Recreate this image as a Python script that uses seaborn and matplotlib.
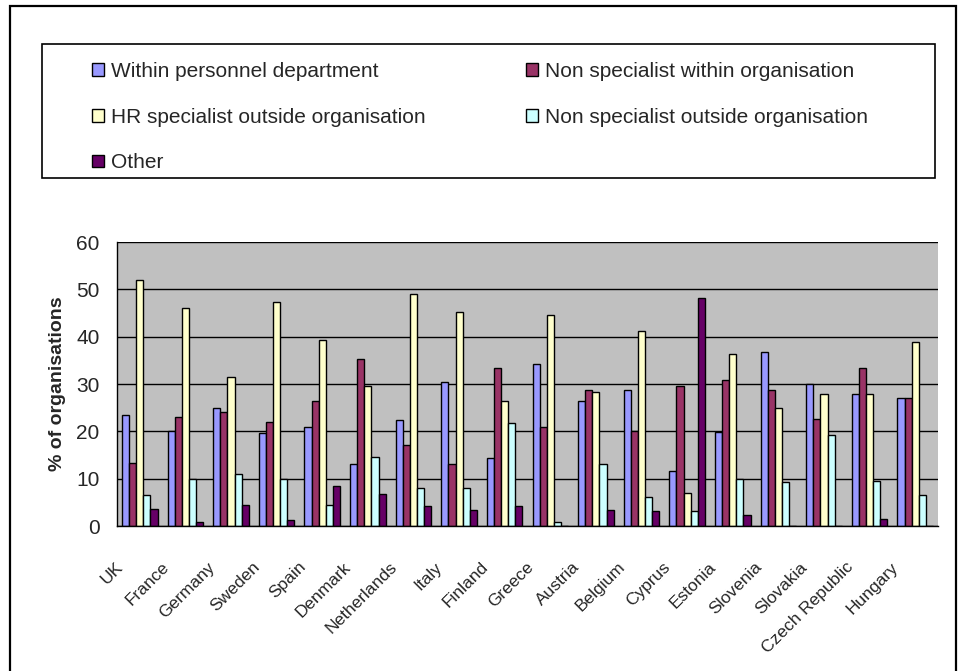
import pandas as pd
import matplotlib
matplotlib.use("Agg")
import matplotlib.pyplot as plt
import matplotlib.patches as mpatches
import seaborn as sns

# Data
countries = ["UK", "France", "Germany", "Sweden", "Spain", "Denmark", "Netherlands",
             "Italy", "Finland", "Greece", "Austria", "Belgium", "Cyprus", "Estonia",
             "Slovenia", "Slovakia", "Czech Republic", "Hungary"]
series = ["Within personnel department", "Non specialist within organisation",
          "HR specialist outside organisation", "Non specialist outside organisation",
          "Other"]
within_personnel = [23.5, 20.0, 25.0, 19.7, 21.0, 13.0, 22.3, 30.5, 14.3, 34.2,
                    26.5, 28.7, 11.7, 19.8, 36.7, 29.9, 27.8, 27.0]
non_spec_within = [13.3, 23.0, 24.0, 22.0, 26.5, 35.3, 17.2, 13.0, 33.3, 21.0,
                   28.7, 20.0, 29.6, 30.8, 28.7, 22.7, 33.3, 27.0]
hr_spec_outside = [52.0, 46.0, 31.5, 47.3, 39.2, 29.5, 49.0, 45.2, 26.5, 44.5,
                   28.3, 41.3, 7.0, 36.3, 24.9, 27.8, 27.8, 38.8]
non_spec_outside = [6.5, 10.0, 11.0, 10.0, 4.5, 14.5, 8.0, 8.0, 21.8, 0.8,
                    13.0, 6.2, 3.2, 10.0, 9.2, 19.3, 9.6, 6.6]
other = [3.5, 0.8, 4.5, 1.2, 8.5, 6.7, 4.2, 3.3, 4.3, 0.0,
         3.3, 3.2, 48.2, 2.4, 0.0, 0.0, 1.5, 0.0]
colors = ["#9999FF", "#993366", "#FFFFCC", "#CCFFFF", "#660066"]

df = pd.DataFrame({"Country": countries,
                   series[0]: within_personnel,
                   series[1]: non_spec_within,
                   series[2]: hr_spec_outside,
                   series[3]: non_spec_outside,
                   series[4]: other})
long = df.melt(id_vars="Country", var_name="Series", value_name="Value")

sns.set_style("white")
plt.rcParams["font.family"] = ["Liberation Sans", "DejaVu Sans"]

W, H = 959, 671
fig = plt.figure(figsize=(W / 100, H / 100), dpi=100)
ax = fig.add_axes([117 / W, 1 - 526 / H, (938 - 117) / W, (526 - 242) / H])

sns.barplot(data=long, x="Country", y="Value", hue="Series", hue_order=series,
            palette=colors, width=0.78, edgecolor="black", linewidth=1.0,
            saturation=1, ax=ax, legend=False)

ax.set_facecolor("#C0C0C0")
ax.set_ylim(0, 60)
ax.set_xlim(-0.5, len(countries) - 0.5)
ax.set_yticks(range(0, 61, 10))
ax.yaxis.grid(True, color="black", linewidth=1)
ax.set_axisbelow(True)
for s in ["top", "right"]:
    ax.spines[s].set_visible(False)
for s in ["left", "bottom"]:
    ax.spines[s].set_color("black")
    ax.spines[s].set_linewidth(1.0)

# category labels sit a little left of the group centres, like in Excel
ax.set_xticks([i - 0.3 for i in range(len(countries))])
ax.set_xticklabels(countries, rotation=45, ha="right", va="top",
                   family=["Liberation Sans Narrow", "Liberation Sans"], fontsize=12.5)
ax.set_xticks([i - 0.5 for i in range(len(countries) + 1)], minor=True)
ax.tick_params(axis="x", which="major", length=0, pad=24)
ax.tick_params(axis="x", which="minor", length=3.6, width=1.0, direction="out", color="black")
ax.tick_params(axis="y", length=6.5, width=1.0, direction="out", color="black",
               labelsize=15, pad=6)
ax.set_xlabel("")
ax.set_ylabel("% of organisations", fontsize=14, fontweight="bold")
ax.yaxis.set_label_coords(-0.062, 0.5)

# legend, row-major order as in the reference; frame drawn separately
handles = [mpatches.Patch(facecolor=c, edgecolor="black", linewidth=1) for c in colors]
order = [0, 2, 4, 1, 3]
fig.legend([handles[i] for i in order], [series[i] for i in order],
           ncol=2, loc="upper left", bbox_to_anchor=(92 / W, 1 - 62 / H),
           fontsize=15, frameon=False,
           handlelength=0.56, handleheight=0.56, handletextpad=0.34,
           columnspacing=4.85, labelspacing=1.28, borderpad=0, borderaxespad=0)
fig.patches.append(mpatches.Rectangle((42 / W, 1 - 178 / H), (935 - 42) / W, (178 - 44) / H,
                                      transform=fig.transFigure, fill=False,
                                      edgecolor="black", linewidth=1.2))

# outer chart border
fig.patches.append(mpatches.Rectangle((10 / W, -0.01), (956 - 10) / W, 1.01 - 6 / H,
                                      transform=fig.transFigure, fill=False,
                                      edgecolor="black", linewidth=1.6))

fig.savefig("out.png", dpi=100)
